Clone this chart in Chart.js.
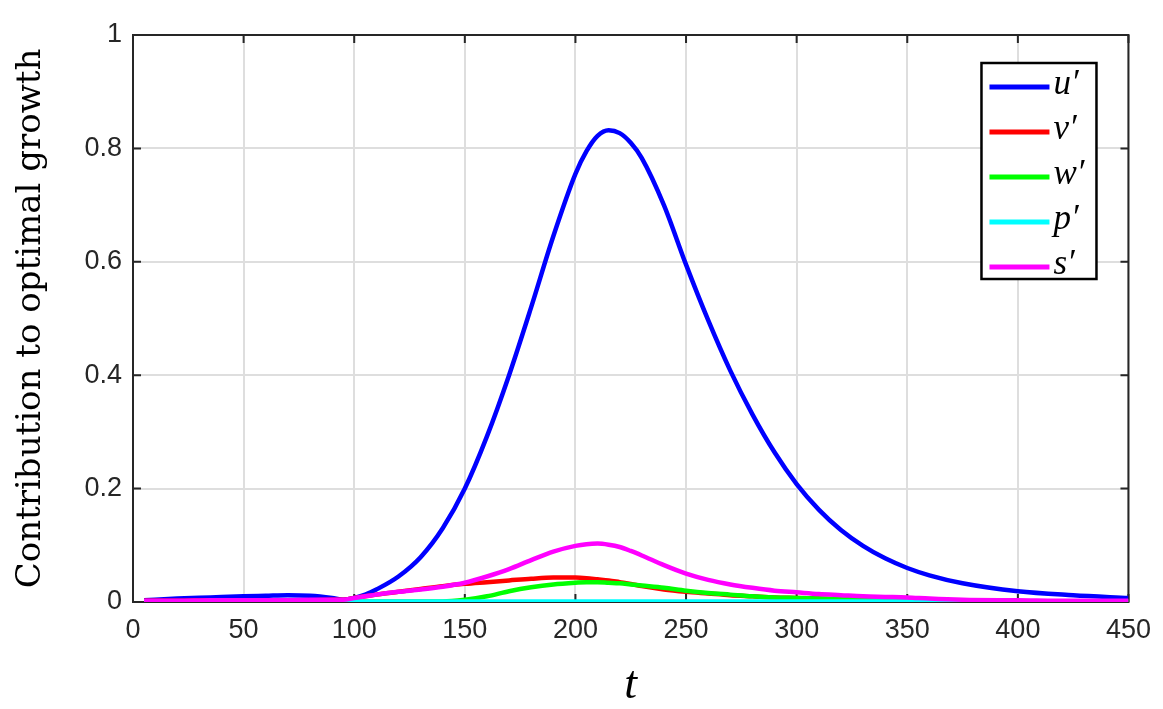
<!DOCTYPE html>
<html>
<head>
<meta charset="utf-8">
<title>Contribution to optimal growth</title>
<script src="https://cdn.jsdelivr.net/npm/chart.js@4.4.1/dist/chart.umd.min.js"></script>
<style>
    html, body { margin: 0; padding: 0; background: #fff; }
    #holder { width: 1163px; height: 709px; position: relative; }
</style>
</head>
<body>
<div id="holder"><canvas id="growthChart"></canvas></div>
<script>
// time samples (shared by every curve)
var tValues = [5, 20, 35, 50, 60, 70, 80, 90, 95, 100, 105, 110, 120, 130, 140, 150, 160, 170, 180, 190,
    200, 205, 210, 215, 220, 225, 230, 240, 250, 260, 270, 280, 290, 300, 310, 320, 330, 340, 350,
    360, 375, 400, 425, 450];

var uVals = [0.003, 0.006, 0.008, 0.010, 0.011, 0.012, 0.011, 0.007, 0.004, 0.007, 0.013, 0.022, 0.045, 0.079, 0.130, 0.200, 0.292, 0.400, 0.520, 0.645,
    0.755, 0.795, 0.822, 0.832, 0.827, 0.810, 0.783, 0.700, 0.595, 0.497, 0.408, 0.331, 0.264, 0.208, 0.163, 0.127, 0.099, 0.077, 0.060,
    0.047, 0.033, 0.019, 0.012, 0.007];

var vVals = [0.002, 0.002, 0.003, 0.003, 0.003, 0.003, 0.003, 0.004, 0.004, 0.007, 0.010, 0.013, 0.018, 0.023, 0.028, 0.032, 0.035, 0.038, 0.041, 0.043,
    0.043, 0.042, 0.040, 0.038, 0.035, 0.032, 0.028, 0.022, 0.018, 0.015, 0.012, 0.010, 0.008, 0.007, 0.006, 0.005, 0.004, 0.003, 0.002,
    0.002, 0.001, 0.001, 0.000, 0.000];

var wVals = [0.001, 0.001, 0.001, 0.001, 0.001, 0.001, 0.001, 0.001, 0.001, 0.001, 0.001, 0.001, 0.001, 0.001, 0.001, 0.004, 0.010, 0.019, 0.026, 0.031,
    0.034, 0.035, 0.035, 0.034, 0.033, 0.031, 0.029, 0.025, 0.020, 0.016, 0.013, 0.010, 0.008, 0.007, 0.006, 0.005, 0.004, 0.003, 0.002,
    0.002, 0.001, 0.001, 0.000, 0.000];

var pVals = [0.001, 0.001, 0.001, 0.001, 0.001, 0.001, 0.001, 0.001, 0.001, 0.001, 0.001, 0.001, 0.001, 0.001, 0.001, 0.001, 0.001, 0.001, 0.001, 0.001,
    0.001, 0.001, 0.001, 0.001, 0.001, 0.001, 0.001, 0.001, 0.001, 0.001, 0.001, 0.001, 0.001, 0.001, 0.001, 0.001, 0.001, 0.001, 0.001,
    0.001, 0.001, 0.001, 0.001, 0.001];

var sVals = [0.002, 0.002, 0.003, 0.003, 0.003, 0.003, 0.004, 0.004, 0.004, 0.007, 0.010, 0.013, 0.018, 0.022, 0.027, 0.034, 0.045, 0.058, 0.074, 0.089,
    0.099, 0.102, 0.103, 0.101, 0.097, 0.090, 0.082, 0.065, 0.050, 0.039, 0.031, 0.025, 0.020, 0.017, 0.014, 0.012, 0.010, 0.009, 0.008,
    0.006, 0.004, 0.003, 0.002, 0.002];

var seriesLabels = ['u\u2032', 'v\u2032', 'w\u2032', 'p\u2032', 's\u2032'];
var seriesColors = ['#0000ff', '#ff0000', '#00ff00', '#00ffff', '#ff00ff'];
var xTicks = [0, 50, 100, 150, 200, 250, 300, 350, 400, 450];
var yTicks = [0, 0.2, 0.4, 0.6, 0.8, 1];

function toPoints(vals) {
    return vals.map((v, i) => ({x: tValues[i], y: v}));
}

var allVals = [uVals, vVals, wVals, pVals, sVals];
var datasets = allVals.map((vals, i) => ({
    label: seriesLabels[i],
    data: toPoints(vals),
    borderColor: seriesColors[i],
    backgroundColor: seriesColors[i],
    borderWidth: 4.5,
    pointRadius: 0,
    cubicInterpolationMode: 'monotone',
    fill: false,
    order: allVals.length - i   // later series drawn on top, like the original
}));

// box round the plot with inward ticks on all four sides
var boxPlugin = {
    id: 'axesBox',
    beforeDatasetsDraw(chart) {
        const ctx = chart.ctx;
        const ca = chart.chartArea;
        const xs = chart.scales.x, ys = chart.scales.y;
        const tl = 8;
        ctx.save();
        ctx.strokeStyle = '#262626';
        ctx.lineWidth = 2;
        ctx.beginPath();
        xs.ticks.forEach(t => {
            const px = xs.getPixelForValue(t.value);
            ctx.moveTo(px, ca.bottom); ctx.lineTo(px, ca.bottom - tl);
            ctx.moveTo(px, ca.top); ctx.lineTo(px, ca.top + tl);
        });
        ys.ticks.forEach(t => {
            const py = ys.getPixelForValue(t.value);
            ctx.moveTo(ca.left, py); ctx.lineTo(ca.left + tl, py);
            ctx.moveTo(ca.right, py); ctx.lineTo(ca.right - tl, py);
        });
        ctx.stroke();
        ctx.strokeRect(ca.left, ca.top, ca.right - ca.left, ca.bottom - ca.top);
        ctx.restore();
    }
};

// boxed legend inside the top right corner
var legendPlugin = {
    id: 'boxLegend',
    afterDatasetsDraw(chart) {
        const ctx = chart.ctx;
        const ca = chart.chartArea;
        const w = 115, h = 216;
        const left = ca.right - 32 - w, top = ca.top + 28;
        ctx.save();
        ctx.fillStyle = '#ffffff';
        ctx.fillRect(left, top, w, h);
        ctx.strokeStyle = '#000000';
        ctx.lineWidth = 2.5;
        ctx.strokeRect(left, top, w, h);
        chart.data.datasets.forEach((ds, i) => {
            const y = top + 24 + i * 45;
            ctx.strokeStyle = ds.borderColor;
            ctx.lineWidth = 5;
            ctx.beginPath();
            ctx.moveTo(left + 8, y);
            ctx.lineTo(left + 68, y);
            ctx.stroke();
            ctx.fillStyle = '#000000';
            ctx.font = 'italic 35px "Liberation Serif", serif';
            ctx.textBaseline = 'middle';
            ctx.textAlign = 'left';
            ctx.fillText(ds.label, left + 72, y - 2);
        });
        ctx.restore();
    }
};

var ctxEl = document.getElementById('growthChart');
new Chart(ctxEl, {
    type: 'line',
    data: { datasets: datasets },
    options: {
        responsive: true,
        maintainAspectRatio: false,
        animation: false,
        layout: { padding: { left: 0, right: 34, top: 35, bottom: 0 } },
        plugins: {
            legend: { display: false },
            tooltip: { enabled: false }
        },
        scales: {
            x: {
                type: 'linear',
                min: 0,
                max: 450,
                afterFit: s => { s.height = 107; },
                afterBuildTicks: s => { s.ticks = xTicks.map(v => ({value: v})); },
                grid: { color: '#dedede', lineWidth: 2, drawTicks: false },
                border: { display: false },
                ticks: {
                    color: '#262626',
                    padding: 12,
                    maxRotation: 0,
                    callback: v => String(v),
                    font: { family: '"Liberation Sans", Arial, sans-serif', size: 27 }
                },
                title: {
                    display: true,
                    text: 't',
                    color: '#000000',
                    padding: { top: 0, bottom: 0 },
                    font: { family: '"Liberation Serif", serif', size: 46, style: 'italic', lineHeight: 1 }
                }
            },
            y: {
                min: 0,
                max: 1,
                afterFit: s => { s.width = 133; },
                afterBuildTicks: s => { s.ticks = yTicks.map(v => ({value: v})); },
                grid: { color: '#dedede', lineWidth: 2, drawTicks: false },
                border: { display: false },
                ticks: {
                    color: '#262626',
                    padding: 11,
                    callback: v => String(v),
                    font: { family: '"Liberation Sans", Arial, sans-serif', size: 27 }
                },
                title: {
                    display: true,
                    text: 'Contribution to optimal growth',
                    color: '#000000',
                    padding: { top: 11, bottom: 0 },
                    font: { family: '"DejaVu Serif", serif', size: 34, lineHeight: 1.2 }
                }
            }
        }
    },
    plugins: [boxPlugin, legendPlugin]
});
</script>
</body>
</html>
